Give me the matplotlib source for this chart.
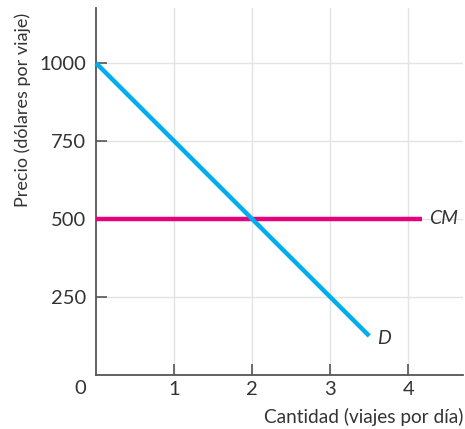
import matplotlib
matplotlib.use('Agg')
import matplotlib.pyplot as plt

# Data
demand_q = [0, 3.5]
demand_p = [1000, 125]
cm_q = [0, 4.17]
cm_p = [500, 500]
x_ticks = [1, 2, 3, 4]
y_ticks = [250, 500, 750, 1000]

blue = '#00AEEF'
magenta = '#E6007E'
text_color = '#333333'

plt.rcParams['font.family'] = ['Lato', 'DejaVu Sans']

fig = plt.figure(figsize=(4.65, 4.29), dpi=100)
ax = fig.add_axes([0.2065, 0.126, 0.789, 0.855])

ax.set_xlim(0, 4.7)
ax.set_ylim(0, 1176)

ax.set_xticks(x_ticks)
ax.set_yticks(y_ticks)
ax.set_xticklabels([str(t) for t in x_ticks])
ax.set_yticklabels([str(t) for t in y_ticks])
ax.grid(True, color='#e3e3e3', linewidth=1.0, zorder=0)
ax.tick_params(direction='in', length=8, width=1.2, color='#555555',
               labelsize=14.5, labelcolor=text_color)
ax.tick_params(axis='y', pad=7)
ax.tick_params(axis='x', pad=4)

for side in ['top', 'right']:
    ax.spines[side].set_visible(False)
for side in ['left', 'bottom']:
    ax.spines[side].set_color('#555555')
    ax.spines[side].set_linewidth(1.3)

ax.plot(cm_q, cm_p, color=magenta, linewidth=3.2, solid_capstyle='butt', zorder=3, clip_on=False)
ax.plot(demand_q, demand_p, color=blue, linewidth=3.2, solid_capstyle='butt', zorder=4, clip_on=False)

ax.text(4.26, 500, 'CM', style='italic', fontsize=14, color=text_color, va='center', ha='left')
ax.text(3.6, 118, 'D', style='italic', fontsize=14, color=text_color, va='center', ha='left')

# corner zero
ax.annotate('0', xy=(0, 0), xytext=(-11.5, -9.4), textcoords='offset points',
            fontsize=14.5, color=text_color, ha='center', va='center')

ax.set_ylabel('Precio (dólares por viaje)', fontsize=13, color=text_color)
ax.yaxis.set_label_coords(-0.178, 0.722)
ax.text(1.0, -0.114, 'Cantidad (viajes por día)', transform=ax.transAxes,
        fontsize=13.7, color=text_color, ha='right', va='center')

fig.savefig('out.png', dpi=100)
